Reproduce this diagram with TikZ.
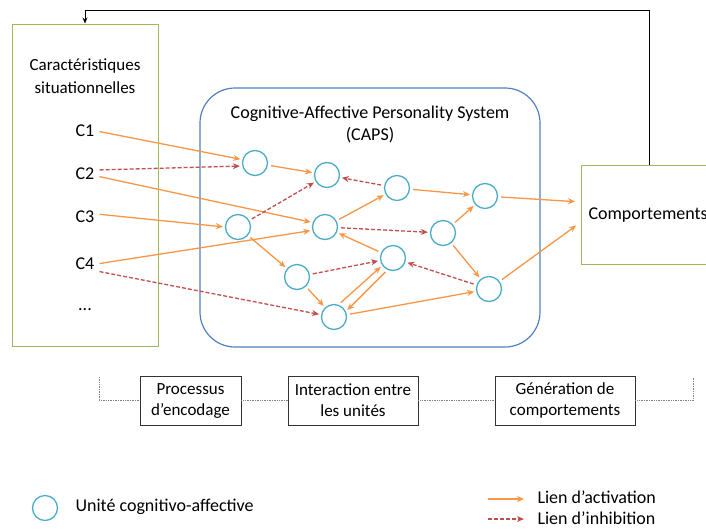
\documentclass[tikz,border=0pt]{standalone}
\usepackage{fontspec}
\setmainfont{Carlito}
\usetikzlibrary{arrows.meta}
\definecolor{actorange}{RGB}{247,150,70}
\definecolor{inhred}{RGB}{192,80,77}
\definecolor{unitblue}{RGB}{75,172,198}
\definecolor{boxgreen}{RGB}{155,187,89}
\definecolor{capsblue}{RGB}{79,129,189}
\tikzset{
  unit/.style={circle, draw=unitblue, line width=1.3pt, minimum size=25pt, inner sep=0pt},
  act/.style={draw=actorange, line width=1.3pt, -{Stealth[length=7pt,width=6pt]}, shorten >=2pt, shorten <=3pt},
  inh/.style={draw=inhred, line width=1.3pt, dash pattern=on 4pt off 2pt, -{Stealth[length=7pt,width=6pt]}, shorten >=2pt, shorten <=3pt},
  greenbox/.style={draw=boxgreen, line width=1pt},
  stagebox/.style={draw=black!80, line width=0.8pt, fill=white, minimum height=49pt, align=center, inner sep=2pt, font=\fontsize{17}{21}\selectfont},
  phaseline/.style={draw=gray, line width=0.7pt, densely dotted},
  clabel/.style={inner sep=2pt}
}

\begin{document}
\begin{tikzpicture}[x=1pt, y=-1pt, font=\fontsize{18}{22}\selectfont]
                \clip (0,0) rectangle (706,528);
                % boxes
                \node[greenbox, minimum width=146pt, minimum height=322pt] (sit) at (85,185) {};
                \node[align=center, font=\fontsize{17}{23}\selectfont] (sittitle) at (85,76) {Caractéristiques\\situationnelles};
                \node[draw=capsblue, line width=1.2pt, rounded corners=35pt, minimum width=340pt, minimum height=259pt] (caps) at (370,217.5) {};
                \node[align=center] (capstitle) at (370,124) {Cognitive-Affective Personality System\\(CAPS)};
                \node[greenbox, anchor=west, text width=120pt, inner xsep=7pt, minimum height=99pt, align=left] (comp) at (581,215) {Comportements};
                % situations
                \node[clabel] (c1) at (85,131) {C1};
                \node[clabel] (c2) at (85,174) {C2};
                \node[clabel] (c3) at (85,217) {C3};
                \node[clabel] (c4) at (85,264) {C4};
                \node[clabel] (cdots) at (85,310) {...};
                % units
                \node[unit] (u1) at (255,163) {};
                \node[unit] (u2) at (327,175) {};
                \node[unit] (u3) at (397,188) {};
                \node[unit] (u4) at (485,196) {};
                \node[unit] (u5) at (238,227) {};
                \node[unit] (u6) at (325,227) {};
                \node[unit] (u7) at (443,233) {};
                \node[unit] (u8) at (393,258) {};
                \node[unit] (u9) at (297,277) {};
                \node[unit] (u10) at (489,289) {};
                \node[unit] (u11) at (334,317) {};
                % encoding links
                \draw[act] (c1.east) -- (u1.165);
                \draw[inh] ([yshift=4pt]c2.east) -- ([yshift=-3pt]u1.west);
                \draw[act] ([yshift=-2pt]c2.east) -- (u6.160);
                \draw[act] ([yshift=3pt]c3.east) -- (u5.west);
                \draw[act] (c4.east) -- (u6.195);
                \draw[inh] ([yshift=-7pt]c4.east) -- (u11.170);
                % interactions
                \draw[act] (u1) -- (u2);
                \draw[act] (u6) -- (u3);
                \draw[act] (u3) -- (u4);
                \draw[act] (u5) -- (u9);
                \draw[act] (u9) -- (u11);
                \draw[act] (u11.70) -- (u8.215);
                \draw[act] (u8.245) -- (u11.25);
                \draw[act] (u8) -- (u6);
                \draw[act] (u7) -- (u4);
                \draw[act] (u7) -- (u10);
                \draw[act] (u11) -- (u10);
                \draw[inh] (u5) -- (u2);
                \draw[inh] (u3) -- (u2);
                \draw[inh] (u6) -- (u7);
                \draw[inh] (u9) -- (u8);
                \draw[inh] (u10) -- (u8);
                % behaviour
                \draw[act, shorten >=6pt] (u4) -- ([yshift=13pt]comp.west);
                \draw[act, shorten >=6pt] (u10) -- ([yshift=-7pt]comp.west);
                \coordinate (fbtop) at (85,10);
                \draw[line width=0.9pt, -{Stealth[length=6pt,width=5pt]}] (comp.north -| 649,0) |- (fbtop) -- (sit.north);
                % stages
                \coordinate (pl) at (99,377);
                \coordinate (pr) at (693,377);
                \node[stagebox, minimum width=101pt] (enc) at (190.5,400.5) {Processus\\d’encodage};
                \node[stagebox, minimum width=130pt] (inter) at (353,400.5) {Interaction entre\\les unités};
                \node[stagebox, minimum width=140pt] (gen) at (565,400.5) {Génération de\\comportements};
                \draw[phaseline] (pl) |- (enc.west);
                \draw[phaseline] (enc) -- (inter);
                \draw[phaseline] (inter) -- (gen);
                \draw[phaseline] (gen.east) -| (pr);
                % legend
                \node[unit] (lunit) at (45,508) {};
                \node[anchor=west] (lunittext) at (72,507) {Unité cognitivo-affective};
                \coordinate (la1) at (488,499);
                \coordinate (la2) at (524,499);
                \coordinate (li1) at (488,519);
                \coordinate (li2) at (524,519);
                \draw[act, shorten <=0pt, shorten >=0pt] (la1) -- (la2);
                \draw[inh, shorten <=0pt, shorten >=0pt] (li1) -- (li2);
                \node[anchor=west] (latext) at (534,497) {Lien d’activation};
                \node[anchor=west] (litext) at (534,518) {Lien d’inhibition};
\end{tikzpicture}
\end{document}
